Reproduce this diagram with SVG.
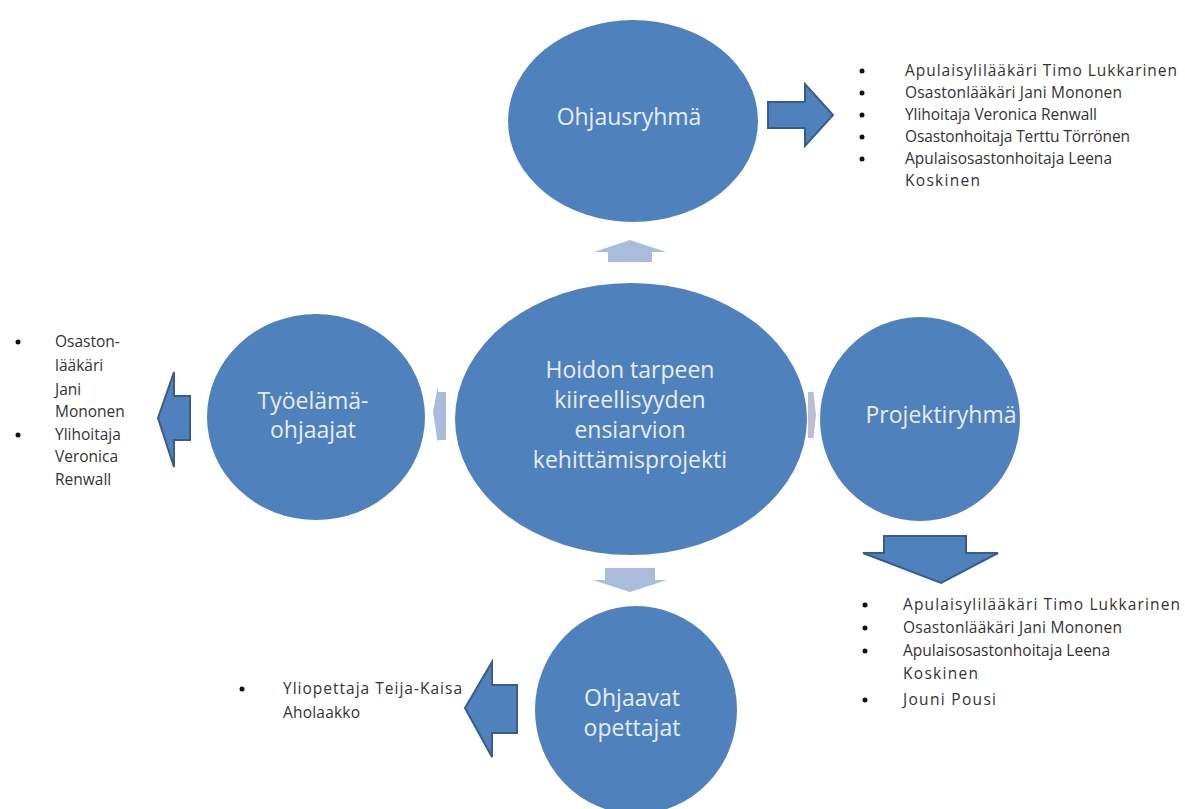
<svg xmlns="http://www.w3.org/2000/svg" width="1185" height="809" viewBox="0 0 1185 809">
  <defs>
    <style>
      .node { fill: #4f81bd; }
      .label { fill: #e6edf6; font-family: "Open Sans", "Liberation Sans", sans-serif; font-size: 23px; text-anchor: middle; }
      .big { fill: #4f81bd; stroke: #385d8a; stroke-width: 2; stroke-linejoin: miter; }
      .link { fill: #a9bcdc; }
      .link2 { fill: #b9bdd6; }
      .item { fill: #333333; font-family: "Open Sans", "Liberation Sans", sans-serif; font-size: 15.5px; }
      .dot { fill: #111111; }
    </style>
  </defs>
  <rect width="1185" height="809" fill="#ffffff"/>

  <!-- connectors between the central project and its groups -->
  <g id="connectors">
    <polygon class="link" points="630,240 666,252 652,252 652,262 608,262 608,252 594,252"/>
    <polygon class="link" points="605,568 655,568 655,580 667,580 630,592 593,580 605,580"/>
    <polygon class="link" points="433,412 438,386 438,392 446,392 446,440 438,440 438,444"/>
    <polygon class="link2" points="808,392 813,392 813,388 816,415 813,442 813,438 808,438"/>
  </g>

  <!-- central project -->
  <g id="node-center">
    <ellipse class="node" cx="631" cy="419" rx="176" ry="136"/>
    <text class="label" x="630" y="378">Hoidon tarpeen</text>
    <text class="label" x="630" y="408">kiireellisyyden</text>
    <text class="label" x="630" y="438">ensiarvion</text>
    <text class="label" x="630" y="468">kehittämisprojekti</text>
  </g>

  <!-- steering group -->
  <g id="node-ohjausryhma">
    <ellipse class="node" cx="633" cy="121" rx="125" ry="101"/>
    <text class="label" x="629" y="125">Ohjausryhmä</text>
    <polygon class="big" points="768,102 805,102 805,84 833,115 805,146 805,128 768,128"/>
    <g id="list-ohjausryhma">
      <circle class="dot" cx="862" cy="71" r="2.5"/>
      <circle class="dot" cx="862" cy="93" r="2.5"/>
      <circle class="dot" cx="862" cy="115" r="2.5"/>
      <circle class="dot" cx="862" cy="137" r="2.5"/>
      <circle class="dot" cx="862" cy="159" r="2.5"/>
      <text class="item" x="905" y="76" textLength="272" lengthAdjust="spacing">Apulaisylilääkäri Timo Lukkarinen</text>
      <text class="item" x="905" y="98" textLength="217" lengthAdjust="spacing">Osastonlääkäri Jani Mononen</text>
      <text class="item" x="905" y="120" textLength="192" lengthAdjust="spacing">Ylihoitaja Veronica Renwall</text>
      <text class="item" x="905" y="142" textLength="225" lengthAdjust="spacing">Osastonhoitaja Terttu Törrönen</text>
      <text class="item" x="905" y="164" textLength="207" lengthAdjust="spacing">Apulaisosastonhoitaja Leena</text>
      <text class="item" x="905" y="186" textLength="75" lengthAdjust="spacing">Koskinen</text>
    </g>
  </g>

  <!-- workplace supervisors -->
  <g id="node-tyoelama">
    <ellipse class="node" cx="316" cy="417" rx="109" ry="103"/>
    <text class="label" x="313" y="409">Työelämä-</text>
    <text class="label" x="313" y="438">ohjaajat</text>
    <polygon class="big" points="158,418 174,372 174,396 190,396 190,440 174,440 174,467"/>
    <g id="list-tyoelama">
      <circle class="dot" cx="18" cy="342" r="2.5"/>
      <circle class="dot" cx="18" cy="435" r="2.5"/>
      <text class="item" x="55" y="347">Osaston-</text>
      <text class="item" x="55" y="371">lääkäri</text>
      <text class="item" x="55" y="395">Jani</text>
      <text class="item" x="55" y="417">Mononen</text>
      <text class="item" x="55" y="440">Ylihoitaja</text>
      <text class="item" x="55" y="462">Veronica</text>
      <text class="item" x="55" y="485">Renwall</text>
    </g>
  </g>

  <!-- project group -->
  <g id="node-projektiryhma">
    <ellipse class="node" cx="920" cy="419" rx="100" ry="102"/>
    <text class="label" x="941" y="423">Projektiryhmä</text>
    <polygon class="big" points="884,536 966,536 966,553 998,553 941,583 863,553 884,553"/>
    <g id="list-projektiryhma">
      <circle class="dot" cx="865" cy="605" r="2.5"/>
      <circle class="dot" cx="865" cy="628" r="2.5"/>
      <circle class="dot" cx="865" cy="651" r="2.5"/>
      <circle class="dot" cx="865" cy="700" r="2.5"/>
      <text class="item" x="903" y="610" textLength="277" lengthAdjust="spacing">Apulaisylilääkäri Timo Lukkarinen</text>
      <text class="item" x="903" y="633" textLength="219" lengthAdjust="spacing">Osastonlääkäri Jani Mononen</text>
      <text class="item" x="903" y="656" textLength="207" lengthAdjust="spacing">Apulaisosastonhoitaja Leena</text>
      <text class="item" x="903" y="679" textLength="75" lengthAdjust="spacing">Koskinen</text>
      <text class="item" x="903" y="705" textLength="93" lengthAdjust="spacing">Jouni Pousi</text>
    </g>
  </g>

  <!-- supervising teachers -->
  <g id="node-ohjaavat">
    <ellipse class="node" cx="636" cy="710" rx="101" ry="104"/>
    <text class="label" x="632" y="706">Ohjaavat</text>
    <text class="label" x="632" y="736">opettajat</text>
    <polygon class="big" points="465,708 492,662 492,685 517,685 517,733 492,733 492,757"/>
    <g id="list-ohjaavat">
      <circle class="dot" cx="242" cy="689" r="2.5"/>
      <text class="item" x="283" y="694" textLength="179" lengthAdjust="spacing">Yliopettaja Teija-Kaisa</text>
      <text class="item" x="283" y="718" textLength="77" lengthAdjust="spacing">Aholaakko</text>
    </g>
  </g>
</svg>
